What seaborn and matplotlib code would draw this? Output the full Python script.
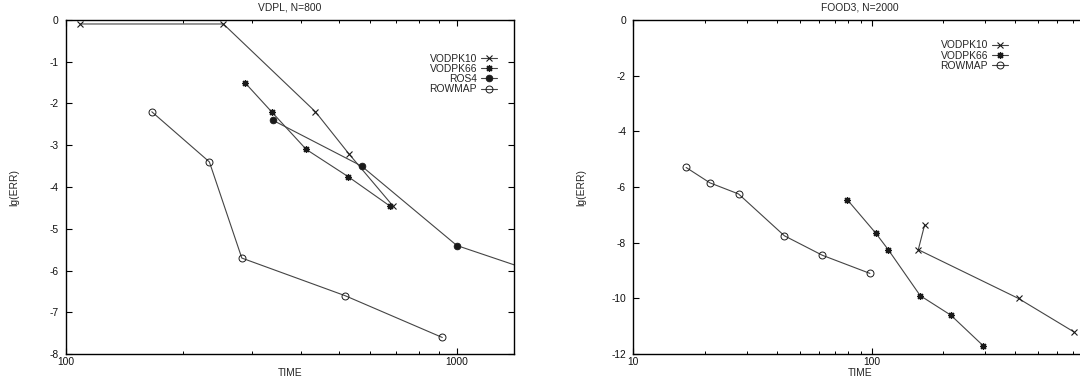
import matplotlib
matplotlib.use("Agg")
import matplotlib.pyplot as plt
import seaborn as sns
from matplotlib.ticker import FixedLocator, NullFormatter, LogLocator, FuncFormatter

# ---------------- data ----------------
vdpl_vodpk10_time = [109, 253, 435, 529, 686]
vdpl_vodpk10_err = [-0.1, -0.1, -2.2, -3.2, -4.45]
vdpl_vodpk66_time = [287, 336, 412, 527, 673]
vdpl_vodpk66_err = [-1.5, -2.2, -3.1, -3.75, -4.45]
vdpl_ros4_time = [338, 571, 1000, 2000]
vdpl_ros4_err = [-2.4, -3.5, -5.4, -6.35]
vdpl_rowmap_time = [166, 233, 282, 518, 918]
vdpl_rowmap_err = [-2.2, -3.4, -5.7, -6.6, -7.6]

food3_vodpk10_time = [167, 157, 413, 705]
food3_vodpk10_err = [-7.35, -8.25, -10.0, -11.2]
food3_vodpk66_time = [79, 104, 117.5, 160, 215, 294]
food3_vodpk66_err = [-6.45, -7.65, -8.25, -9.9, -10.6, -11.7]
food3_rowmap_time = [16.7, 21.0, 27.7, 43.1, 62.2, 98.4]
food3_rowmap_err = [-5.3, -5.85, -6.25, -7.75, -8.45, -9.1]

left_title = "VDPL, N=800"
right_title = "FOOD3, N=2000"
x_label = "TIME"
y_label = "lg(ERR)"

# ---------------- style ----------------
sns.set_style("ticks")
plt.rcParams["font.family"] = ["Liberation Sans", "DejaVu Sans"]
FS = 7.4

W, H = 1080, 379
fig = plt.figure(figsize=(W / 100, H / 100), dpi=100)

def px_axes(l, r, t, b):
    return fig.add_axes([l / W, 1 - b / H, (r - l) / W, (b - t) / H])

axL = px_axes(65.7, 514.0, 19.8, 354.2)
axR = px_axes(633.0, 1087.0, 19.8, 354.2)

LC = "#444444"
MC = "#1a1a1a"
ASTER = (8, 2, 0)

styles = {
    "VODPK10": dict(marker="x", markersize=4.5, markeredgewidth=0.8),
    "VODPK66": dict(marker=ASTER, markersize=5.0, markeredgewidth=0.9),
    "ROS4": dict(marker="o", markersize=4.8, markerfacecolor=MC, markeredgewidth=0.6),
    "ROWMAP": dict(marker="o", markersize=5.0, markerfacecolor="none", markeredgewidth=0.7),
}

def draw(ax, xs, ys, name):
    st = dict(styles[name])
    sns.lineplot(x=xs, y=ys, ax=ax, sort=False, estimator=None, color=LC,
                 linewidth=0.8, markeredgecolor=MC, label=name, **st)

draw(axL, vdpl_vodpk10_time, vdpl_vodpk10_err, "VODPK10")
draw(axL, vdpl_vodpk66_time, vdpl_vodpk66_err, "VODPK66")
draw(axL, vdpl_ros4_time, vdpl_ros4_err, "ROS4")
draw(axL, vdpl_rowmap_time, vdpl_rowmap_err, "ROWMAP")

draw(axR, food3_vodpk10_time, food3_vodpk10_err, "VODPK10")
draw(axR, food3_vodpk66_time, food3_vodpk66_err, "VODPK66")
draw(axR, food3_rowmap_time, food3_rowmap_err, "ROWMAP")

def fmt(ax, xlim, xmajor, ylim, yticks, right=True):
    ax.set_xscale("log")
    ax.set_xlim(*xlim)
    ax.set_ylim(*ylim)
    ax.xaxis.set_major_locator(FixedLocator(xmajor))
    ax.xaxis.set_major_formatter(FuncFormatter(lambda v, p: f"{v:g}"))
    ax.xaxis.set_minor_locator(LogLocator(base=10, subs=range(2, 10)))
    ax.xaxis.set_minor_formatter(NullFormatter())
    ax.yaxis.set_major_locator(FixedLocator(yticks))
    ax.yaxis.set_major_formatter(FuncFormatter(lambda v, p: f"{v:g}"))
    ax.tick_params(which="both", direction="in", top=True, right=right,
                   color="black", labelsize=FS, labelcolor="#111111")
    ax.tick_params(which="major", length=4, width=0.8)
    ax.tick_params(which="minor", length=2.5, width=0.7)
    ax.tick_params(axis="y", which="major", pad=5)
    ax.tick_params(axis="x", which="major", pad=2.0)
    for s in ax.spines.values():
        s.set_linewidth(1.0)
        s.set_color("black")
        s.set_visible(True)
    ax.set_xlabel("")
    ax.set_ylabel("")
    ax.grid(False)

fmt(axL, (100, 1400), [100, 1000], (-8, 0), list(range(-8, 1)))
fmt(axR, (10, 800), [10, 100], (-12, 0), list(range(-12, 1, 2)), right=False)

def legend(ax, right_px, top_px):
    ax.legend(loc="upper right", bbox_to_anchor=(right_px / W, 1 - top_px / H),
              bbox_transform=fig.transFigure, frameon=False, markerfirst=False,
              fontsize=FS, borderpad=0, borderaxespad=0, handlelength=1.55,
              handletextpad=0.4, labelspacing=0.02, numpoints=1)

legend(axL, 497, 53.5)
legend(axR, 1008, 40.5)

# titles and labels
fig.text(289.9 / W, 1 - 7.5 / H, left_title, ha="center", va="center", fontsize=FS)
fig.text(860.0 / W, 1 - 7.5 / H, right_title, ha="center", va="center", fontsize=FS)
fig.text(289.9 / W, 1 - 372.8 / H, x_label, ha="center", va="center", fontsize=FS)
fig.text(860.0 / W, 1 - 372.8 / H, x_label, ha="center", va="center", fontsize=FS)
fig.text(14.0 / W, 1 - 188.0 / H, y_label, ha="center", va="center", rotation=90, fontsize=FS)
fig.text(581.0 / W, 1 - 188.0 / H, y_label, ha="center", va="center", rotation=90, fontsize=FS)

fig.savefig("out.png", dpi=100)
